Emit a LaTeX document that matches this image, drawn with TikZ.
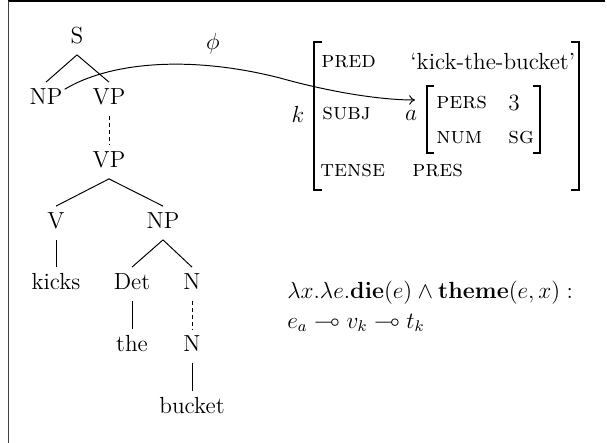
\documentclass[tikz,border=0pt]{standalone}
\usepackage{amssymb}
\usetikzlibrary{arrows.meta}
\begin{document}
\begin{tikzpicture}[x=0.515pt,y=-0.515pt,
  every node/.style={font=\fontsize{12}{14}\selectfont},
  tn/.style={inner xsep=1pt,inner ysep=3.5pt,text height=8pt,text depth=2pt},
  br/.style={line width=0.85pt},
  tl/.style={line width=0.5pt},
  dl/.style={line width=0.5pt,dash pattern=on 2pt off 1.6pt},
  av/.style={anchor=west,inner sep=0pt}]
\useasboundingbox (0,0) rectangle (607,443);
% frame
\draw[line width=1pt] (8.5,1.2) -- (605,1.2);
\draw[line width=1pt,black!75] (8.5,1.2) -- (8.5,443);
% tree
\node[tn] (s) at (77,38) {S};
\node[tn] (np) at (46,99) {NP};
\node[tn] (vp) at (109,99) {VP};
\node[tn] (vp2) at (109,162) {VP};
\node[tn] (v) at (56,223) {V};
\node[tn] (np2) at (163,223) {NP};
\node[tn] (kicks) at (56,284) {kicks};
\node[tn] (det) at (132,284) {Det};
\node[tn] (n) at (192,284) {N};
\node[tn] (the) at (132,346) {the};
\node[tn] (n2) at (192,346) {N};
\node[tn] (bucket) at (192,408) {bucket};
\draw[tl] (s.south) -- (np.north);
\draw[tl] (s.south) -- (vp.north);
\draw[dl] (vp.south) -- (vp2.north);
\draw[tl] (vp2.south) -- (v.north);
\draw[tl] (vp2.south) -- (np2.north);
\draw[tl] (v.south) -- (kicks.north);
\draw[tl] (np2.south) -- (det.north);
\draw[tl] (np2.south) -- (n.north);
\draw[tl] (det.south) -- (the.north);
\draw[dl] (n.south) -- (n2.north);
\draw[tl] (n2.south) -- (bucket.north);
% phi
\node (phi) at (213,44) {$\phi$};
% AVM outer
\draw[br] (322,42) -- (314,42) -- (314,190) -- (322,190);
\draw[br] (571,42) -- (579,42) -- (579,190) -- (571,190);
\node (k) at (298,114) {$k$};
\node[av] (pred) at (321,62) {\textsc{pred}};
\node[av] (kb) at (410,62) {`kick-the-bucket'};
\node[av] (subj) at (322,114) {\textsc{subj}};
\node (a) at (411,115) {$a$};
\node[av] (tense) at (320,171) {\textsc{tense}};
\node[av] (pres) at (412,171) {\textsc{pres}};
% inner
\draw[br] (434,86) -- (427,86) -- (427,153) -- (434,153);
\draw[br] (533,86) -- (540,86) -- (540,153) -- (533,153);
\node[av] (pers) at (436,103) {\textsc{pers}};
\node[av] (three) at (508,103) {3};
\node[av] (num) at (436,138) {\textsc{num}};
\node[av] (sg) at (508,138) {\textsc{sg}};
% curve
\coordinate (tip) at (415,100);
\draw[tl,-{To[length=3pt,width=5pt]}] ([yshift=5pt]np.east) .. controls (110,62) and (190,55) .. (280,78) .. controls (330,92) and (380,100) .. (tip);
% formula
\node[av] (f1) at (287,293) {$\lambda x.\lambda e.\mathbf{die}(e)\wedge\mathbf{theme}(e,x):$};
\node[av] (f2) at (287,323) {$e_a\multimap v_k\multimap t_k$};
\end{tikzpicture}
\end{document}
